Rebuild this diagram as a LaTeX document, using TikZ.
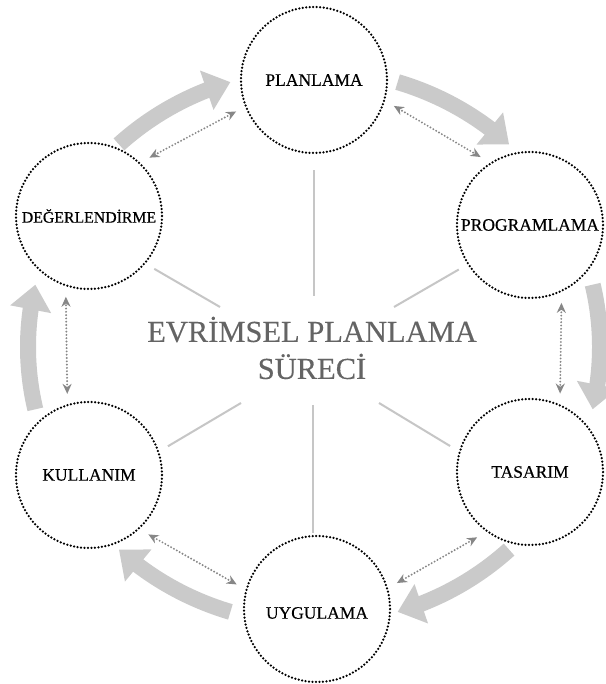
\documentclass[tikz,border=0pt]{standalone}
\usepackage{fontspec}
\setmainfont{Liberation Serif}
\newfontfamily\stagefont[FakeBold=0.4]{Liberation Serif}
\newfontfamily\titlefont[FakeBold=0.3]{Liberation Serif}
\usetikzlibrary{arrows.meta,bending,calc}
\definecolor{flowgray}{RGB}{202,202,202}
\definecolor{linkgray}{RGB}{135,135,135}
\definecolor{spokegray}{RGB}{198,198,198}
\definecolor{titlegray}{RGB}{100,100,100}

\begin{document}
\begin{tikzpicture}[x=1pt,y=1pt,
  stage/.style={circle, minimum size=146pt, inner sep=0pt, outer sep=11pt,
    draw=black, line width=2.5pt, line cap=round, dash pattern=on 0pt off 3.5pt},
  stagetext/.style={font=\stagefont\fontsize{17.5}{20}\selectfont, text=black},
  spoke/.style={draw=spokegray, line width=2pt},
  link/.style={draw=linkgray, line width=2.1pt, line cap=round,
    dash pattern=on 0pt off 3.3pt,
    {Stealth[length=10pt,width=9pt]}-{Stealth[length=10pt,width=9pt]}},
  flow/.style={draw=flowgray, line width=16pt,
    -{Triangle[length=25pt,width=40pt]}},
]
\fill[white] (0,0) rectangle (605,684);
\useasboundingbox (0,0) rectangle (605,684);

% centre of the cycle
\coordinate (hub) at (314,337);

% stages of the process
\node[stage, label={[stagetext]center:PLANLAMA}] (plan) at (314,604) {};
\node[stage, label={[stagetext]center:PROGRAMLAMA}] (prog) at (530,459) {};
\node[stage, label={[stagetext]center:TASARIM}] (tas) at (530,212) {};
\node[stage, label={[stagetext,yshift=-4pt]center:UYGULAMA}] (uyg) at (317,75) {};
\node[stage, label={[stagetext]center:KULLANIM}] (kul) at (89,209) {};
\node[stage, label={[stagetext,font=\stagefont\fontsize{15.8}{18}\selectfont]center:DEĞERLENDİRME}] (deg) at (89,468) {};

% title in the middle
\node[font=\titlefont\fontsize{30.5}{37}\selectfont, text=titlegray, align=center]
  (title) at (312,336) {EVRİMSEL PLANLAMA\\SÜRECİ};

% inner ends of the spokes
\coordinate (hubN)  at (314,388);
\coordinate (hubNW) at (220,377);
\coordinate (hubNE) at (394,377);
\coordinate (hubSW) at (241,281);
\coordinate (hubSE) at (379,281);
\coordinate (hubS)  at (313,279);

\draw[spoke, shorten >=6pt] (hubN) -- (plan.south);
\draw[spoke] (hubNW) -- (deg.-39);
\draw[spoke] (hubNE) -- (prog.212);
\draw[spoke] (hubSW) -- (kul.20);
\draw[spoke] (hubSE) -- (tas.162);
\draw[spoke, shorten >=-8pt] (hubS) -- (hubS |- uyg.north);

% two-way links between neighbouring stages
\draw[link] (deg.44.5) -- (plan.202);
\draw[link] (plan.342) -- (prog.126);
\draw[link] (prog.292.6) -- (tas.69);
\draw[link] (tas.231.6) -- (uyg.18.4);
\draw[link] (uyg.163.4) -- (kul.315.5);
\draw[link] (kul.105) -- (deg.254.4);

% clockwise flow around the cycle
\foreach \a in {120,60,0,-60,-120,180}
  \draw[flow] ($(hub)+(\a+13:286 and 277)$)
    arc[start angle=\a+13, end angle=\a-13, x radius=286, y radius=277];
\end{tikzpicture}
\end{document}
